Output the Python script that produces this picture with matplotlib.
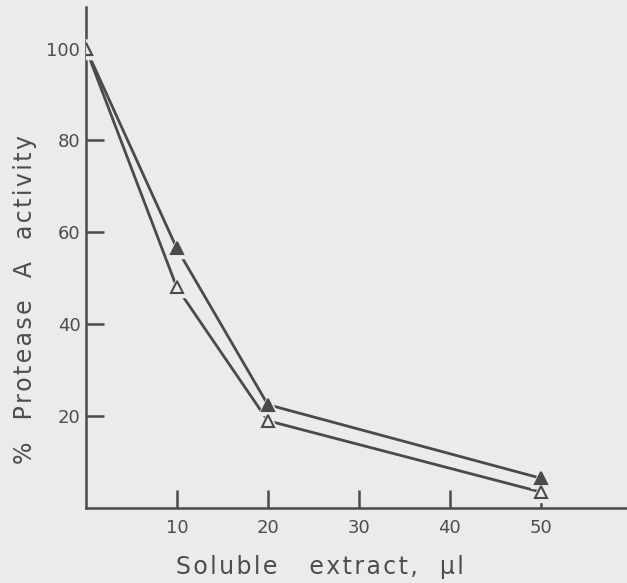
import matplotlib
matplotlib.use("Agg")
import matplotlib.pyplot as plt

x = [0, 10, 20, 50]
filled = [100, 56.5, 22.5, 6.5]
open_ = [100, 48, 19, 3.5]
xticks = [10, 20, 30, 40, 50]
yticks = [20, 40, 60, 80, 100]
xlabel = "Soluble   extract,  µl"
ylabel = "%  Protease  A  activity"

bg = "#ebebe9"
ink = "#4a4a4a"
txt = "#4d4d4d"


def spaced(s):
    return "\u200a".join(list(s))


fig = plt.figure(figsize=(6.27, 5.83), dpi=100, facecolor=bg)
ax = fig.add_axes([0.137, 0.1286, 0.863, 0.859], facecolor=bg)

for ys, fc in ((filled, ink), (open_, "none")):
    ax.plot(x, ys, color=ink, lw=2.0, zorder=2, solid_capstyle="butt")
    ax.plot(x, ys, ls="none", marker="^", ms=15, mfc=bg, mec=bg, zorder=3)
    ax.plot(x, ys, ls="none", marker="^", ms=9, mfc=(ink if fc != "none" else bg),
            mec=ink, mew=1.5, zorder=4)

ax.set_xlim(0, 59.5)
ax.set_ylim(0, 109)
ax.set_xticks(xticks)
ax.set_yticks(yticks)
ax.set_xticklabels([str(v) for v in xticks])
ax.set_yticklabels([str(v) for v in yticks])
for s in ("top", "right"):
    ax.spines[s].set_visible(False)
for s in ("left", "bottom"):
    ax.spines[s].set_color(ink)
    ax.spines[s].set_linewidth(1.8)
ax.tick_params(direction="in", length=13, width=1.8, color=ink, labelcolor=txt,
               labelsize=13, pad=4)
ax.tick_params(axis="x", pad=8)
ax.yaxis.get_major_ticks()[-1].tick1line.set_visible(False)
ax.set_xlabel(spaced(xlabel), fontsize=17, color=txt)
ax.set_ylabel(spaced(ylabel), fontsize=17, color=txt)
ax.xaxis.set_label_coords(0.433, -0.094)
ax.yaxis.set_label_coords(-0.091, 0.417)

fig.savefig("out.png", dpi=100, facecolor=bg)
